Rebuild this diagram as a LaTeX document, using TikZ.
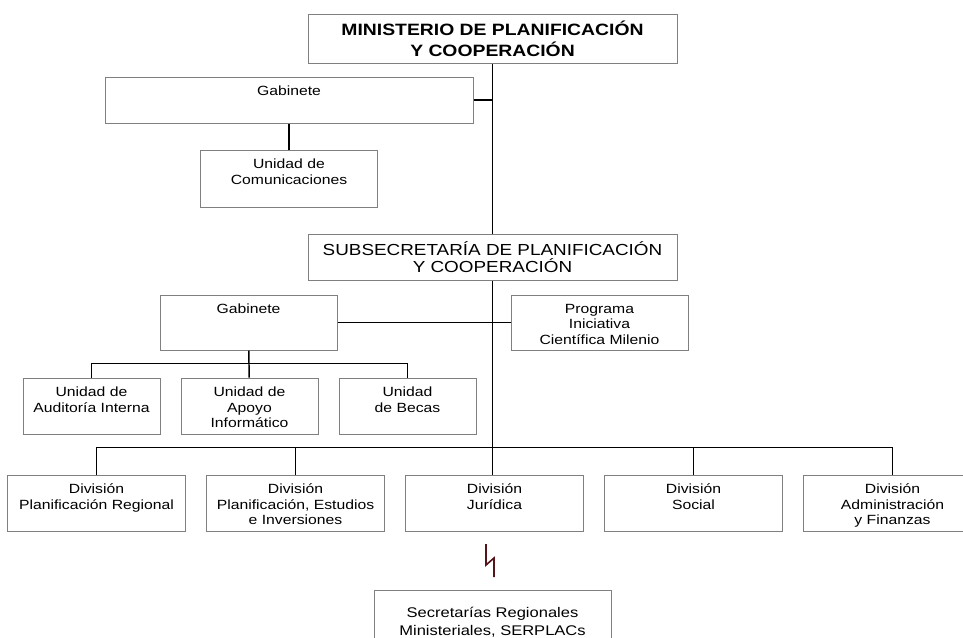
\documentclass[tikz,border=0pt]{standalone}
\usepackage{fontspec}
\setmainfont[FakeStretch=1.18]{Liberation Sans}
\usetikzlibrary{positioning}
\definecolor{boxgray}{RGB}{128,128,128}
\definecolor{zigzagred}{RGB}{85,20,25}

\begin{document}
\begin{tikzpicture}[x=0.75pt, y=-0.75pt, line width=1.1pt, node distance=15pt]
\tikzstyle{every node}=[font=\fontsize{10pt}{11.6pt}\selectfont]
\tikzstyle{box}=[rectangle, draw=boxgray, line width=0.75pt, inner sep=0pt, align=center]
\tikzstyle{lbl}=[anchor=north, align=center, inner xsep=0pt, inner ysep=6.5pt]
\tikzstyle{headbox}=[box, minimum width=276.75pt, minimum height=36.75pt,
                     font=\fontsize{12.3pt}{15.5pt}\selectfont\bfseries]
\tikzstyle{subbox}=[box, minimum width=276.75pt, minimum height=34.5pt,
                    font=\fontsize{12pt}{12.2pt}\selectfont]
\tikzstyle{widebox}=[box, minimum width=276pt, minimum height=34.5pt]
\tikzstyle{midbox}=[box, minimum width=132.75pt, minimum height=41.25pt]
\tikzstyle{unitbox}=[box, minimum width=102.75pt, minimum height=42pt]
\tikzstyle{divbox}=[box, minimum width=133.5pt, minimum height=42pt]

\useasboundingbox (0,0) rectangle (963,637);
\clip (0,0) rectangle (963,637);

\node [headbox] (title) at (492.5,38.5) {MINISTERIO DE PLANIFICACIÓN\\Y COOPERACIÓN};
\node [widebox, label={[lbl]north:Gabinete}] (gab1) at (289,100) {};
\node [midbox, minimum height=42.75pt,
       label={[lbl]north:{Unidad de\\Comunicaciones}}] (comu) at (289,178.5) {};

\node [subbox] (sub) at (492.5,257) {SUBSECRETARÍA DE PLANIFICACIÓN\\Y COOPERACIÓN};
\node [midbox, label={[lbl]north:Gabinete}] (gab2) at (248.5,322.5) {};
\node [midbox, label={[lbl]north:{Programa\\Iniciativa\\Científica Milenio}}] (prog) at (599.5,322.5) {};

\node [unitbox, label={[lbl]north:{Unidad de\\Auditoría Interna}}] (uaud) at (91.5,406) {};
\node [unitbox, label={[lbl]north:{Unidad de\\Apoyo\\Informático}}] (uapo) [right=of uaud] {};
\node [unitbox, label={[lbl]north:{Unidad\\de Becas}}] (ubec) [right=of uapo] {};

\node [divbox, label={[lbl]north:{División\\Planificación Regional}}] (dreg) at (96.5,503) {};
\node [divbox, label={[lbl]north:{División\\Planificación, Estudios\\e Inversiones}}] (dpla) [right=of dreg] {};
\node [divbox, label={[lbl]north:{División\\Jurídica}}] (djur) [right=of dpla] {};
\node [divbox, label={[lbl]north:{División\\Social}}] (dsoc) [right=of djur] {};
\node [divbox, label={[lbl]north:{División\\Administración\\y Finanzas}}] (dadm) [right=of dsoc] {};

\node [box, minimum width=177.75pt, minimum height=45pt,
       label={[lbl, inner ysep=12.4pt, font=\fontsize{10.5pt}{13.5pt}\selectfont]north:{Secretarías Regionales\\Ministeriales, SERPLACs}}]
      (seremi) at (492.5,620) {};

% lineas
\draw (title) -- (sub);
\draw (gab1.east) -- (gab1.east -| title.south);
\draw (gab1) -- (comu);
\draw (gab2) -- (prog);
\draw (sub.south) -- (sub.south |- djur.north);
\draw (gab2) -- (uapo);
\draw (uaud.north) -- ++(0,-14) -| (ubec.north);
\draw (dreg.north) -- ++(0,-27) -| (dadm.north);
\draw (dpla.north) -- ++(0,-27);
\draw (dsoc.north) -- ++(0,-27);

\draw [zigzagred, line width=1.2pt] (486,544) -- (486,565) -- (494,558) -- (494,577);
\end{tikzpicture}
\end{document}
